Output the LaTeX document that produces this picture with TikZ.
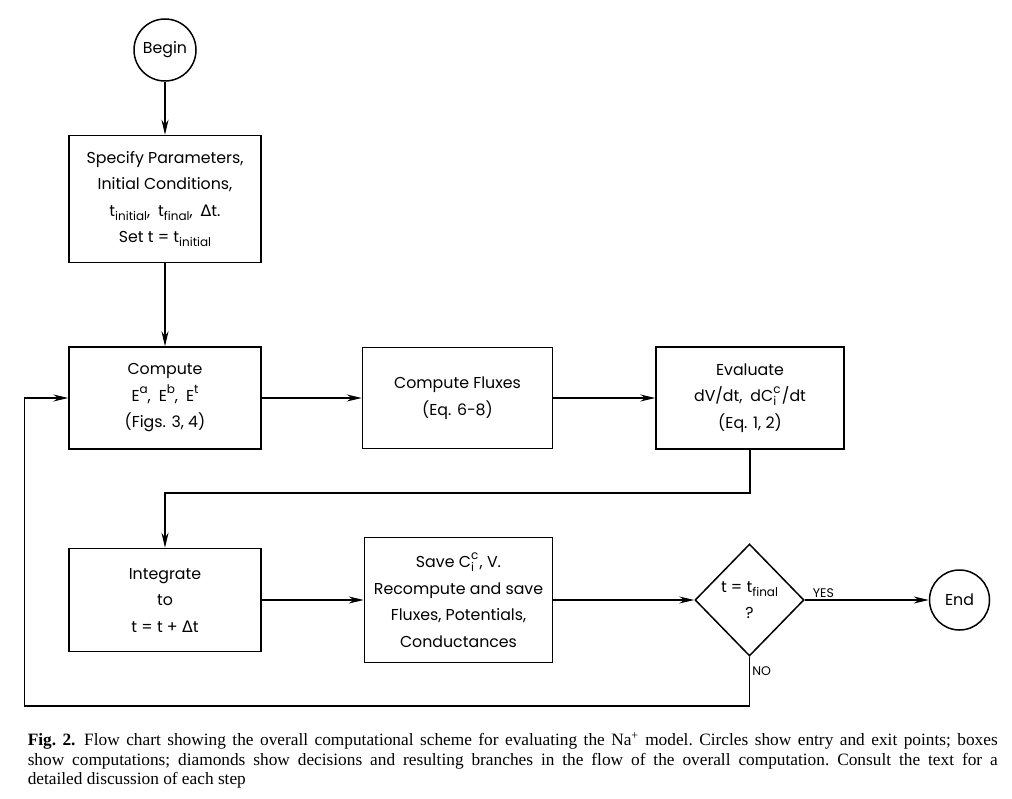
\documentclass[tikz,border=0pt]{standalone}
\usepackage{fontspec}
\setmainfont{Liberation Serif}
\newfontfamily\chartfont{Poppins}
\newfontfamily\greekfont{DejaVu Sans}
\usetikzlibrary{arrows.meta,shapes,positioning}

\newcommand{\lowsub}[1]{\raisebox{-0.45ex}{\fontsize{12}{12}\selectfont #1}}
\newcommand{\highsup}[1]{\raisebox{0.95ex}{\fontsize{12}{12}\selectfont #1}}
\newcommand{\supsub}[2]{\rlap{\highsup{#1}}\makebox[0.55em][l]{\lowsub{#2}}}
\newcommand{\Dt}{{\greekfont Δ}t}

\begin{document}
\begin{tikzpicture}[
        x=1pt, y=1pt,
        line width=1.5pt,
        >={Stealth[length=15pt,width=7pt]},
        every node/.style={font=\chartfont\fontsize{15.8}{26.5}\selectfont, align=center},
        box/.style={draw, rectangle, minimum width=192pt, inner sep=2pt},
        terminal/.style={draw, circle, minimum size=62pt, inner sep=0pt},
        decision/.style={draw, diamond, minimum width=109pt, minimum height=112pt, inner sep=0pt},
        branch/.style={font=\chartfont\fontsize{12.5}{13}\selectfont, inner sep=2pt}
    ]
    \useasboundingbox (0,0) rectangle (1012,-799);

    % Nodes
    \node[terminal] (begin) at (165,-50) {Begin};
    \node[box, minimum height=127pt, below=53pt of begin] (params) {Specify Parameters,\\
        Initial Conditions,\\
        t\lowsub{initial},\enspace t\lowsub{final},\enspace \Dt.\\
        Set t = t\lowsub{initial}};
    \node[box, minimum height=102pt, below=83pt of params] (comp) {Compute\\
        E\highsup{a},\enspace E\highsup{b},\enspace E\highsup{t}\\
        (Figs. 3, 4)};
    \node[box, minimum width=190pt, minimum height=101pt, right=100pt of comp] (flux) {Compute Fluxes\\
        (Eq. 6-8)};
    \node[box, minimum width=188pt, minimum height=102pt, right=102pt of flux] (eval) {Evaluate\\
        dV/dt,\enspace dC\supsub{c}{i}/dt\\
        (Eq. 1, 2)};
    \node[box, minimum height=103pt, below=98pt of comp] (integ) {Integrate\\
        to\\
        t = t + \Dt};
    \node[box, minimum width=188pt, minimum height=125pt, right=102pt of integ] (save) {Save C\supsub{c}{i}, V.\\
        Recompute and save\\
        Fluxes, Potentials,\\
        Conductances};
    \node[decision, right=141pt of save] (check) {t = t\lowsub{final}\\ ?};
    \node[terminal, minimum size=60pt, right=124pt of check] (finish) {End};

    % Edges
    \draw[->] (begin) -- (params);
    \draw[->] (params) -- (comp);
    \draw[->] (comp) -- (flux);
    \draw[->] (flux) -- (eval);
    \draw[->] (eval.south) -- ++(0,-43) -| (integ.north);
    \draw[->] (integ) -- (save);
    \draw[->] (save) -- (check);
    \draw[->] (check) -- node[branch, above, pos=0.15] {YES} (finish);
    \draw[->] (check.south) -- node[branch, right, pos=0.3] {NO} ++(0,-49) -| ([xshift=-44pt]comp.west) -- (comp.west);

    % Caption
    \node[anchor=north west, inner sep=0pt, text width=970pt, align=justify,
        font=\rmfamily\frenchspacing\fontsize{17.3}{19.5}\selectfont] (caption) at (27,-732)
        {\textbf{Fig.~2.}\enspace Flow chart showing the overall computational scheme for evaluating the Na\textsuperscript{+} model. Circles show entry and exit points; boxes\linebreak
        show computations; diamonds show decisions and resulting branches in the flow of the overall computation. Consult the text for a\linebreak
        detailed discussion of each step};
\end{tikzpicture}
\end{document}
